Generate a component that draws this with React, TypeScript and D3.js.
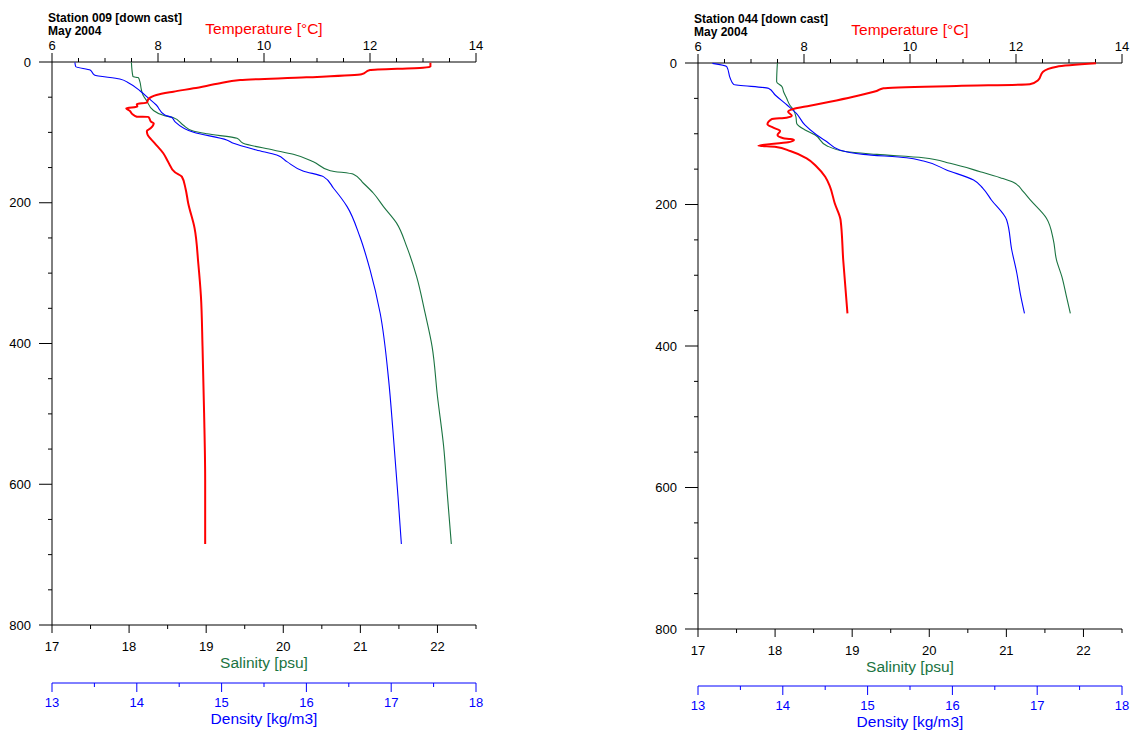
import React, { useRef, useEffect } from "react";
import * as d3 from "d3";

type Pt = [number, number]; // [depth m, value]

// Station 009 profiles
const st009Temp: Pt[] = [
  [1, 13.14], [6.6, 13.14], [8, 13.0], [11.4, 12.0], [17.5, 11.84], [21.8, 10.8],
  [25.6, 9.55], [30.3, 9.17], [37.4, 8.67], [42.2, 8.29], [46.9, 7.97], [52.6, 7.82],
  [57.8, 7.79], [59.7, 7.6], [63.5, 7.61], [65.8, 7.4], [69.6, 7.47], [74.3, 7.52],
  [77.7, 7.6], [78, 7.82], [84.8, 7.87], [87.1, 7.92], [94.2, 7.86], [98, 7.79],
  [102.7, 7.8], [115.5, 7.94], [129.7, 8.1], [141.6, 8.19], [156.7, 8.32], [162.9, 8.45],
  [180, 8.52], [200.7, 8.57], [236, 8.69], [286, 8.76], [333, 8.81], [404, 8.84],
  [499, 8.87], [594, 8.89], [685, 8.89],
];
const st009Sal: Pt[] = [
  [0.5, 18.03], [20.8, 18.05], [22.3, 18.12], [27.9, 18.14], [39.8, 18.16], [46.9, 18.18],
  [55.4, 18.23], [68.2, 18.31], [76.7, 18.47], [79, 18.57], [89.5, 18.7], [98, 18.83],
  [102, 19.01], [108.4, 19.4], [115.5, 19.48], [125, 19.87], [131.2, 20.13], [141.6, 20.39],
  [154.4, 20.61], [159.5, 20.91], [172.3, 21.04], [186.5, 21.17], [205.5, 21.3], [229, 21.47],
  [262, 21.6], [305, 21.73], [357, 21.84], [404, 21.93], [475, 22.0], [546, 22.08],
  [617, 22.13], [685, 22.18],
];
const st009Dens: Pt[] = [
  [0.5, 13.27], [6.6, 13.28], [11.4, 13.45], [18.5, 13.5], [24.1, 13.8], [29.4, 13.9],
  [41.2, 14.04], [51.6, 14.14], [61.1, 14.23], [75.3, 14.33], [78.6, 14.41], [84.8, 14.45],
  [99.9, 14.67], [110.8, 15.06], [115.5, 15.14], [125, 15.41], [132.1, 15.65], [141.6, 15.77],
  [154.8, 15.96], [162.9, 16.2], [179.4, 16.32], [205.5, 16.48], [248, 16.63], [295, 16.75],
  [357, 16.87], [452, 16.97], [523, 17.02], [617, 17.08], [685, 17.12],
];

// Station 044 profiles
const st044Temp: Pt[] = [
  [0.5, 13.51], [5.2, 12.77], [12.3, 12.51], [24, 12.42], [30.1, 12.26], [32.5, 10.88],
  [35.8, 9.5], [39.6, 9.37], [47.6, 8.93], [54.7, 8.49], [60.4, 8.11], [65, 7.8],
  [68.8, 7.7], [74.5, 7.77], [77.3, 7.67], [79.2, 7.39], [86.6, 7.31], [91.4, 7.42],
  [96.1, 7.55], [101.8, 7.5], [106.4, 7.61], [107.4, 7.74], [108.8, 7.81], [112.1, 7.7],
  [116.9, 7.14], [118.3, 7.45], [124.4, 7.74], [134.7, 8.05], [146.6, 8.24], [160.7, 8.4],
  [174.8, 8.49], [198.3, 8.58], [221.9, 8.69], [278.4, 8.74], [353.8, 8.82],
];
const st044Sal: Pt[] = [
  [0, 18.03], [26.4, 18.02], [33.5, 18.09], [40.6, 18.11], [49.9, 18.15], [59.4, 18.19],
  [66.4, 18.24], [75.9, 18.27], [85.2, 18.28], [94.7, 18.39], [101.8, 18.52], [116.9, 18.67],
  [125.4, 18.93], [129.1, 19.32], [133.9, 19.92], [141.8, 20.27], [153.6, 20.66], [162.1, 20.92],
  [168.6, 21.09], [181.9, 21.22], [193.6, 21.31], [219.5, 21.52], [250.2, 21.61], [278.4, 21.65],
  [302, 21.72], [330.3, 21.78], [353.8, 21.83],
];
const st044Dens: Pt[] = [
  [0.5, 13.17], [5.2, 13.34], [21.6, 13.38], [30.1, 13.42], [35.8, 13.83], [45.2, 13.91],
  [59.4, 14.05], [71.1, 14.16], [87.6, 14.26], [101.8, 14.4], [111.2, 14.52], [123, 14.67],
  [129.1, 14.95], [133.9, 15.46], [138.5, 15.66], [151.2, 15.93], [165.4, 16.25], [177.1, 16.36],
  [193.6, 16.46], [221.9, 16.64], [264.3, 16.7], [297.2, 16.76], [325.5, 16.8], [353.8, 16.85],
];

const depthTicks = [0, 200, 400, 600, 800];
const tempTicks = [6, 8, 10, 12, 14];
const salTicks = [17, 18, 19, 20, 21, 22];
const densTicks = [13, 14, 15, 16, 17, 18];

const stations = [
  { title: "Station 009 [down cast]", date: "May 2004", temp: st009Temp, sal: st009Sal, dens: st009Dens },
  { title: "Station 044 [down cast]", date: "May 2004", temp: st044Temp, sal: st044Sal, dens: st044Dens },
];

const FONT = "'Liberation Sans', Arial, sans-serif";
const RED = "#ff0000";
const GREEN = "#1a7341";
const BLUE = "#0000ff";

export default function App() {
  const svgRef = useRef<SVGSVGElement>(null);

  useEffect(() => {
    if (!svgRef.current) return;
    document.body.style.margin = "0";
    const svg = d3.select(svgRef.current);
    svg.selectAll("*").remove();

    const panels = [
      { left: 52, right: 476, top: 62, bottom: 625, densY: 683 },
      { left: 698, right: 1122, top: 63, bottom: 629, densY: 686 },
    ];

    stations.forEach((st, i) => {
      const p = panels[i];
      const g = svg.append("g");

      const y = d3.scaleLinear().domain([0, 800]).range([p.top, p.bottom]);
      const xT = d3.scaleLinear().domain([6, 14]).range([p.left, p.right]);
      const xS = d3.scaleLinear().domain([17, 22.5]).range([p.left, p.right]);
      const xD = d3.scaleLinear().domain([13, 18]).range([p.left, p.right]);

      // Depth axis
      g.append("line")
        .attr("x1", p.left).attr("x2", p.left)
        .attr("y1", p.top).attr("y2", p.bottom)
        .attr("stroke", "#000").attr("stroke-width", 1);
      d3.range(0, 801, 50).forEach((d) => {
        const major = d % 200 === 0;
        g.append("line")
          .attr("x1", p.left - (major ? 13 : 4)).attr("x2", p.left)
          .attr("y1", y(d)).attr("y2", y(d))
          .attr("stroke", "#000").attr("stroke-width", 1);
      });
      depthTicks.forEach((d) => {
        g.append("text")
          .attr("x", p.left - 21).attr("y", y(d) + 4.5)
          .attr("text-anchor", "end")
          .style("font-family", FONT).style("font-size", "13px").style("fill", "#000")
          .text(d);
      });

      // Temperature axis (top)
      g.append("line")
        .attr("x1", p.left).attr("x2", p.right)
        .attr("y1", p.top).attr("y2", p.top)
        .attr("stroke", "#000").attr("stroke-width", 1);
      d3.range(6, 14.01, 0.5).forEach((t) => {
        const major = Math.abs(t % 2) < 1e-6;
        g.append("line")
          .attr("x1", xT(t)).attr("x2", xT(t))
          .attr("y1", p.top - (major ? 9 : 4)).attr("y2", p.top)
          .attr("stroke", "#000").attr("stroke-width", 1);
      });
      tempTicks.forEach((t) => {
        g.append("text")
          .attr("x", xT(t)).attr("y", p.top - 12)
          .attr("text-anchor", "middle")
          .style("font-family", FONT).style("font-size", "13px").style("fill", "#000")
          .text(t);
      });
      g.append("text")
        .attr("x", (p.left + p.right) / 2).attr("y", p.top - 28)
        .attr("text-anchor", "middle")
        .style("font-family", FONT).style("font-size", "15.5px").style("fill", RED)
        .text("Temperature [°C]");

      // Station header
      g.append("text")
        .attr("x", p.left - 4).attr("y", p.top - 40)
        .style("font-family", FONT).style("font-size", "12px").style("font-weight", "bold")
        .text(st.title);
      g.append("text")
        .attr("x", p.left - 4).attr("y", p.top - 27)
        .style("font-family", FONT).style("font-size", "12px").style("font-weight", "bold")
        .text(st.date);

      // Salinity axis (bottom)
      g.append("line")
        .attr("x1", p.left).attr("x2", p.right)
        .attr("y1", p.bottom).attr("y2", p.bottom)
        .attr("stroke", "#000").attr("stroke-width", 1);
      d3.range(17, 22.51, 0.5).forEach((s) => {
        const major = Math.abs(s - Math.round(s)) < 1e-6;
        g.append("line")
          .attr("x1", xS(s)).attr("x2", xS(s))
          .attr("y1", p.bottom).attr("y2", p.bottom + (major ? 8 : 4))
          .attr("stroke", "#000").attr("stroke-width", 1);
      });
      salTicks.forEach((s) => {
        g.append("text")
          .attr("x", xS(s)).attr("y", p.bottom + 26)
          .attr("text-anchor", "middle")
          .style("font-family", FONT).style("font-size", "13px").style("fill", "#000")
          .text(s);
      });
      g.append("text")
        .attr("x", (p.left + p.right) / 2).attr("y", p.bottom + 43)
        .attr("text-anchor", "middle")
        .style("font-family", FONT).style("font-size", "15.5px").style("fill", GREEN)
        .text("Salinity [psu]");

      // Density axis
      g.append("line")
        .attr("x1", p.left).attr("x2", p.right)
        .attr("y1", p.densY).attr("y2", p.densY)
        .attr("stroke", BLUE).attr("stroke-width", 1);
      d3.range(13, 18.01, 0.5).forEach((dv) => {
        const major = Math.abs(dv - Math.round(dv)) < 1e-6;
        g.append("line")
          .attr("x1", xD(dv)).attr("x2", xD(dv))
          .attr("y1", p.densY).attr("y2", p.densY + (major ? 9 : 4))
          .attr("stroke", BLUE).attr("stroke-width", 1);
      });
      densTicks.forEach((dv) => {
        g.append("text")
          .attr("x", xD(dv)).attr("y", p.densY + 24)
          .attr("text-anchor", "middle")
          .style("font-family", FONT).style("font-size", "13px").style("fill", BLUE)
          .text(dv);
      });
      g.append("text")
        .attr("x", (p.left + p.right) / 2).attr("y", p.densY + 41)
        .attr("text-anchor", "middle")
        .style("font-family", FONT).style("font-size", "15.5px").style("fill", BLUE)
        .text("Density [kg/m3]");

      // Profiles (smoothed along depth)
      const lineFor = (xs: d3.ScaleLinear<number, number>) =>
        d3.line<Pt>().x((d) => xs(d[1])).y((d) => y(d[0])).curve(d3.curveMonotoneY);

      g.append("path").datum(st.sal)
        .attr("fill", "none").attr("stroke", GREEN).attr("stroke-width", 1.1)
        .attr("d", lineFor(xS));
      g.append("path").datum(st.dens)
        .attr("fill", "none").attr("stroke", BLUE).attr("stroke-width", 1.1)
        .attr("d", lineFor(xD));
      g.append("path").datum(st.temp)
        .attr("fill", "none").attr("stroke", RED).attr("stroke-width", 2)
        .attr("stroke-linejoin", "round")
        .attr("d", lineFor(xT));
    });
  }, []);

  return <svg ref={svgRef} width={1135} height={734} style={{ display: "block", background: "#fff" }} />;
}
